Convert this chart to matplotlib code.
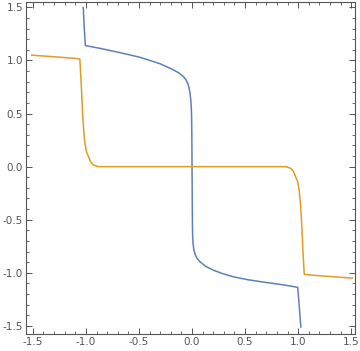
import matplotlib
matplotlib.use("Agg")
import matplotlib.pyplot as plt
from matplotlib.ticker import MultipleLocator

# blue curve
blue_x = [-1.025, -1.015, -1.005, -0.95, -0.87, -0.679, -0.49, -0.30, -0.176, -0.12,
          -0.082, -0.055, -0.035, -0.02, -0.012, -0.007, -0.004, -0.002, 0.0, 0.002,
          0.004, 0.006, 0.01, 0.018, 0.03, 0.05, 0.075, 0.13, 0.2, 0.28,
          0.39, 0.53, 0.69, 0.87, 0.995, 1.005, 1.015, 1.025]
blue_y = [1.50, 1.30, 1.14, 1.13, 1.115, 1.074, 1.03, 0.969, 0.912, 0.88,
          0.849, 0.815, 0.77, 0.70, 0.63, 0.56, 0.47, 0.30, 0.0, -0.30,
          -0.56, -0.66, -0.73, -0.786, -0.83, -0.868, -0.896, -0.94, -0.975, -1.005,
          -1.038, -1.066, -1.09, -1.115, -1.137, -1.25, -1.38, -1.51]

# orange curve
orange_x = [-1.51, -1.3, -1.1, -1.057, -1.045, -1.031, -1.02, -1.009, -0.995, -0.978,
            -0.955, -0.93, -0.884, -0.5, 0.0, 0.5, 0.884, 0.93, 0.955, 0.978,
            0.995, 1.009, 1.02, 1.031, 1.045, 1.057, 1.1, 1.3, 1.51]
orange_y = [1.05, 1.035, 1.02, 1.013, 0.80, 0.50, 0.33, 0.22, 0.14, 0.10,
            0.045, 0.016, 0.0, 0.0, 0.0, 0.0, 0.0, -0.016, -0.045, -0.10,
            -0.14, -0.22, -0.33, -0.50, -0.80, -1.013, -1.02, -1.035, -1.05]

ticks = [-1.5, -1.0, -0.5, 0.0, 0.5, 1.0, 1.5]
tick_labels = ["-1.5", "-1.0", "-0.5", "0.0", "0.5", "1.0", "1.5"]

fig = plt.figure(figsize=(3.6, 3.51), dpi=100)
ax = fig.add_axes([0.072, 0.048, 0.914, 0.946])

ax.plot(blue_x, blue_y, color="#5E81B5", lw=1.1)
ax.plot(orange_x, orange_y, color="#E19C24", lw=1.1)

ax.set_xlim(-1.565, 1.535)
ax.set_ylim(-1.578, 1.55)

ax.set_xticks(ticks)
ax.set_xticklabels(tick_labels)
ax.set_yticks(ticks)
ax.set_yticklabels(tick_labels)
ax.xaxis.set_minor_locator(MultipleLocator(0.1))
ax.yaxis.set_minor_locator(MultipleLocator(0.1))

for s in ax.spines.values():
    s.set_color("#555555")
    s.set_linewidth(0.8)
ax.tick_params(which="both", direction="in", top=True, right=True, color="#555555",
               labelsize=7.5, labelcolor="#555555", pad=2)
ax.tick_params(which="major", length=4, width=0.7)
ax.tick_params(which="minor", length=2.2, width=0.6)

plt.savefig("out.png", dpi=100)
